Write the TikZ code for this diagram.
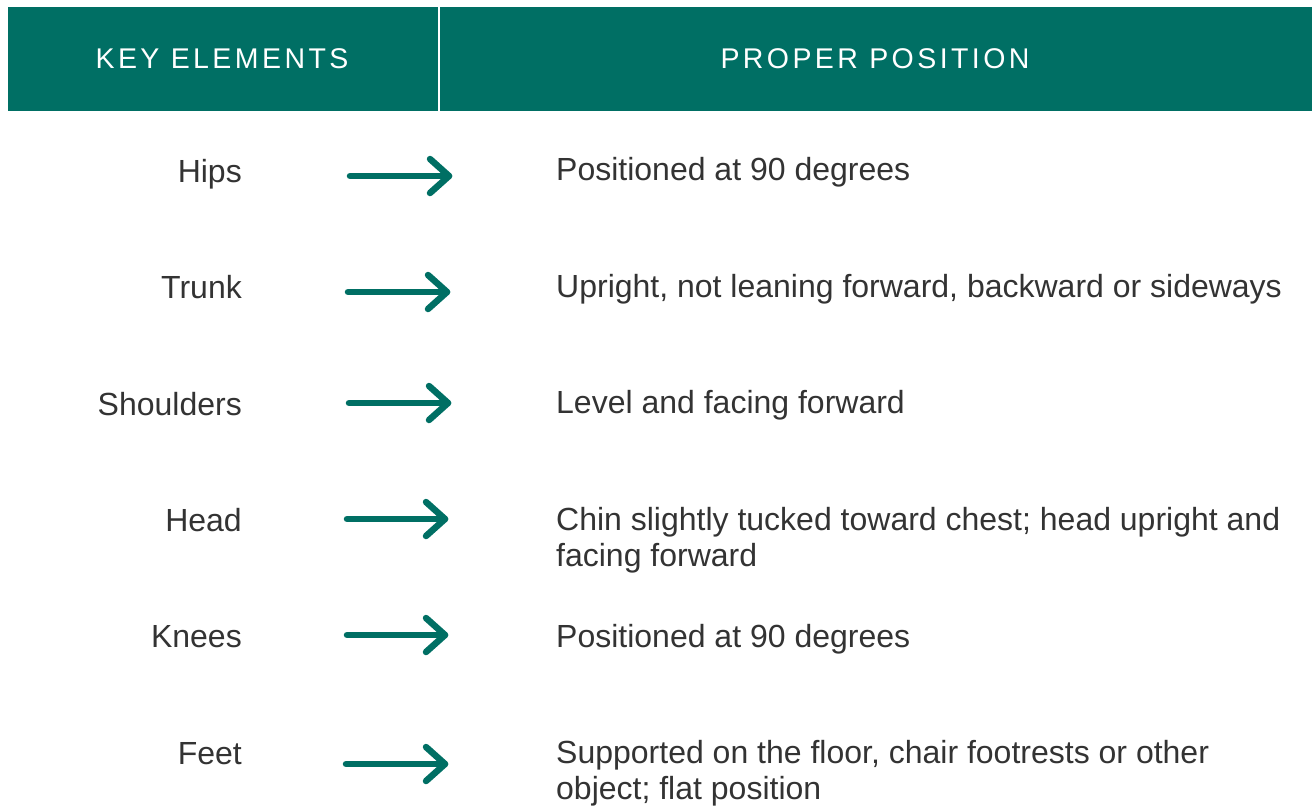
\documentclass[tikz,border=0pt]{standalone}
\usepackage{fontspec}
\usetikzlibrary{calc}
\setmainfont{Liberation Sans}
\newfontfamily\hdrfont[LetterSpace=12]{Liberation Sans}
\definecolor{teal1}{HTML}{006F64}
\definecolor{txt}{HTML}{333333}
\begin{document}
\begin{tikzpicture}[x=1pt,y=-1pt,
  hdr/.style={fill=teal1,draw=none},
  hdrtext/.style={text=white,font=\hdrfont\fontsize{28.5}{32}\selectfont,inner sep=0pt,anchor=base},
  keytext/.style={text=txt,font=\fontsize{32}{36.5}\selectfont,inner sep=0pt,anchor=base east},
  postext/.style={text=txt,font=\fontsize{32}{36.5}\selectfont,inner sep=0pt,anchor=base west},
  arrowline/.style={draw=teal1,line width=6.5pt,line cap=round,line join=round}]
\useasboundingbox (0,0) rectangle (1312,807);
% header
\path[hdr] (8,7) rectangle (438,111);
\path[hdr] (440,7) rectangle (1312,111);
\node[hdrtext] (h1) at (222,68) {KEY ELEMENTS};
\node[hdrtext] (h2) at (875,68) {PROPER POSITION};
% rows
\newcommand{\twoline}[2]{\vtop{\baselineskip=36.5pt\hbox{#1}\hbox{#2}}}
\node[keytext] (k1) at (242,182) {Hips};
\node[keytext] (k2) at (242,298) {Trunk};
\node[keytext] (k3) at (242,415) {Shoulders};
\node[keytext] (k4) at (242,531) {Head};
\node[keytext] (k5) at (242,647) {Knees};
\node[keytext] (k6) at (242,764) {Feet};
\node[postext] (p1) at (556,180) {Positioned at 90 degrees};
\node[postext] (p2) at (556,297) {Upright, not leaning forward, backward or sideways};
\node[postext] (p3) at (556,413) {Level and facing forward};
\node[postext] (p4) at (556,530) {\twoline{Chin slightly tucked toward chest; head upright and}{facing forward}};
\node[postext] (p5) at (556,647) {Positioned at 90 degrees};
\node[postext] (p6) at (556,763) {\twoline{Supported on the floor, chair footrests or other}{object; flat position}};
% arrows
\coordinate (a1s) at (350,176); \coordinate (a1e) at (449,176);
\coordinate (a2s) at (348,292); \coordinate (a2e) at (447,292);
\coordinate (a3s) at (349,403); \coordinate (a3e) at (448,403);
\coordinate (a4s) at (347,519); \coordinate (a4e) at (445,519);
\coordinate (a5s) at (347,635); \coordinate (a5e) at (445,635);
\coordinate (a6s) at (346,764); \coordinate (a6e) at (445,764);
\foreach \i in {1,...,6}{
  \draw[arrowline] (a\i s) -- (a\i e);
  \draw[arrowline] ($(a\i e)+(-19,-17)$) -- (a\i e) -- ($(a\i e)+(-19,17)$);
}
\end{tikzpicture}
\end{document}
